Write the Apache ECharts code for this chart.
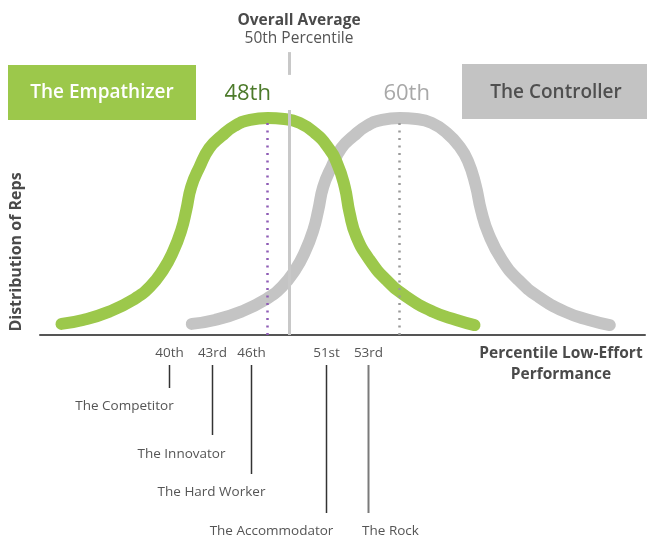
<!DOCTYPE html>
<html>
<head>
<meta charset="utf-8">
<script src="https://cdn.jsdelivr.net/npm/echarts@6/dist/echarts.min.js"></script>
<style>
  html, body { margin: 0; padding: 0; background: #fff; }
  #chart { width: 647px; height: 538px; }
</style>
</head>
<body>
<div id="chart"></div>
<script>
// x = percentile of low-effort performance, y = relative share of reps
var empathizerCurve = [
  [29.25, 3.7], [31.2, 5], [33.6, 7.8], [35.75, 11.7], [37.3, 16.1], [38.5, 21.7],
  [39.4, 27.8], [40.15, 35], [40.6, 41.7], [41.05, 49.4], [41.8, 56], [42.7, 62.3],
  [43.8, 66.3], [45, 69.7], [46.4, 71.7], [48, 72.3], [49.5, 72], [50.9, 70.7],
  [52.3, 67.3], [53.4, 63], [54.3, 57.3], [55, 49.4], [55.45, 40.6], [56.06, 32.8],
  [57.27, 25], [58.8, 18.3], [60.6, 12.8], [63, 7.8], [65.15, 5], [66.8, 3.3]
];
var controllerCurve = [
  [41.1, 3.7], [43.2, 5], [45.6, 7.8], [47.75, 11.7], [49.3, 16.1], [50.5, 21.7],
  [51.4, 27.8], [52.15, 35], [52.6, 41.7], [53.05, 49.4], [53.8, 56], [54.7, 62.3],
  [55.8, 66.3], [57, 69.7], [58.4, 71.7], [60, 72.3], [61.5, 72], [62.9, 70.7],
  [64.3, 67.3], [65.4, 63], [66.2, 58], [66.9, 50], [67.4, 41.5], [68.1, 33.5],
  [69.3, 25], [70.8, 18.3], [72.6, 12.8], [75, 7.8], [77.2, 5], [79.1, 3.3]
];
var empathizerPeak = 48;
var controllerPeak = 60;
var overallAverage = 50;
var peakHeight = 72.3;

// rep types marked under the axis
var typeNames = ['The Competitor', 'The Innovator', 'The Hard Worker', 'The Accommodator', 'The Rock'];
var typeLabels = ['40th', '43rd', '46th', '51st', '53rd'];
var typeMarkerAt = [39.0, 42.9, 46.5, 53.3, 57.1]; // where the picture puts each marker on the axis

var GREEN = '#9cc84b';
var GREY = '#c4c4c4';
var FONT = '"Open Sans", sans-serif';

var chart = echarts.init(document.getElementById('chart'));

chart.setOption({
  animation: false,
  grid: { left: 40, right: 2, top: 35, bottom: 203 },
  xAxis: {
    type: 'value',
    min: 27.3,
    max: 82.3,
    axisLine: { show: true, onZero: false, lineStyle: { color: '#555', width: 2 } },
    axisTick: { show: false },
    axisLabel: { show: false },
    splitLine: { show: false }
  },
  yAxis: {
    type: 'value',
    min: 0,
    max: 100,
    axisLine: { show: false },
    axisTick: { show: false },
    axisLabel: { show: false },
    splitLine: { show: false }
  },
  series: [
    {
      name: 'The Controller',
      type: 'line',
      data: controllerCurve,
      smooth: 0.5,
      showSymbol: false,
      symbol: 'none',
      z: 2,
      lineStyle: { color: GREY, width: 12, cap: 'round', join: 'round' }
    },
    {
      name: 'The Empathizer',
      type: 'line',
      data: empathizerCurve,
      smooth: 0.5,
      showSymbol: false,
      symbol: 'none',
      z: 3,
      lineStyle: { color: GREEN, width: 12, cap: 'round', join: 'round' }
    },
    {
      // reference lines
      type: 'line',
      data: [],
      z: 5,
      markLine: {
        silent: true,
        symbol: ['none', 'none'],
        label: { show: false },
        data: [
          [{ coord: [overallAverage, 0], lineStyle: { color: '#c8c8c8', width: 3, type: 'solid' } },
           { coord: [overallAverage, 75] }],
          [{ coord: [overallAverage, 86.7], lineStyle: { color: '#c8c8c8', width: 3, type: 'solid' } },
           { coord: [overallAverage, 94.3] }],
          [{ coord: [empathizerPeak, 0], lineStyle: { color: '#8e5cb5', width: 2.5, type: [2, 5.5] } },
           { coord: [empathizerPeak, peakHeight] }],
          [{ coord: [controllerPeak, 0], lineStyle: { color: '#9a9a9a', width: 2.5, type: [2, 5.5] } },
           { coord: [controllerPeak, peakHeight] }]
        ]
      }
    }
  ]
});

// annotations
var axisY = chart.convertToPixel({ yAxisIndex: 0 }, 0);
var g = [];

function text(x, y, str, size, color, weight, extra) {
  var el = {
    type: 'text', x: x, y: y, z: 10,
    style: {
      text: str, fill: color, fontSize: size, fontFamily: FONT,
      fontWeight: weight || 'normal', textAlign: 'center', textVerticalAlign: 'middle'
    }
  };
  if (extra) Object.assign(el, extra);
  return el;
}

g.push(text(299, 21, 'Overall Average', 15.5, '#4a4a4a', 'bold'));
g.push(text(299, 39, '50th Percentile', 15.5, '#555'));

g.push({ type: 'rect', shape: { x: 8, y: 65, width: 188, height: 55 }, style: { fill: GREEN }, z: 8 });
g.push(text(102, 93, 'The Empathizer', 19, '#fff', 600));
g.push({ type: 'rect', shape: { x: 462, y: 64, width: 185, height: 55 }, style: { fill: '#c3c3c3' }, z: 8 });
g.push(text(556, 93, 'The Controller', 19, '#4f4f4f', 600));

g.push(text(chart.convertToPixel({ xAxisIndex: 0 }, empathizerPeak) - 20, 94, '48th', 22, '#4c7a2a'));
g.push(text(chart.convertToPixel({ xAxisIndex: 0 }, controllerPeak) + 7, 94, '60th', 22, '#a8a8a8'));

g.push(text(16, 252, 'Distribution of Reps', 16, '#4a4a4a', 'bold', { rotation: Math.PI / 2 }));

g.push(text(561, 354, 'Percentile Low-Effort', 15.5, '#4a4a4a', 'bold'));
g.push(text(561, 375, 'Performance', 15.5, '#4a4a4a', 'bold'));

// layout of the leader lines and names under the axis
var leaderEnd = [388, 435, 474, 513, 513];
var nameY = [406, 454, 492, 531, 531];
var nameDx = [-45, -31, -40, -55, 22];
var leaderColor = ['#333', '#333', '#333', '#333', '#7a7a7a'];

typeLabels.forEach(function (lab, i) {
  var px = Math.round(chart.convertToPixel({ xAxisIndex: 0 }, typeMarkerAt[i])) + 0.5;
  g.push(text(px, axisY + 18, lab, 13.5, '#555'));
  g.push({
    type: 'line', z: 10,
    shape: { x1: px, y1: axisY + 30, x2: px, y2: leaderEnd[i] },
    style: { stroke: leaderColor[i], lineWidth: i === 4 ? 2 : 1.5 }
  });
  g.push(text(px + nameDx[i], nameY[i], typeNames[i], 13.5, '#555'));
});

chart.setOption({ graphic: g });
</script>
</body>
</html>
